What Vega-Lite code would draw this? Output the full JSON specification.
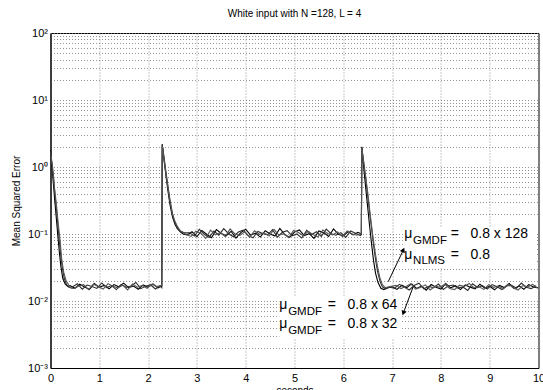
{
"$schema": "https://vega.github.io/schema/vega-lite/v6.json",
"width": 488, "height": 335,
"autosize": {"type": "none"},
"padding": {"left": 50.5, "top": 33, "right": 4.5, "bottom": 22},
"background": "white",
"title": {"text": "White input with N =128, L = 4", "fontSize": 10, "fontWeight": "normal", "font": "Liberation Sans", "color": "#000", "offset": 8, "frame": "group"},
"config": {"view": {"stroke": "#000", "strokeWidth": 1}, "font": "Liberation Sans"},
"datasets": {
"curves": [
{"s":"a","t":0,"v":1.8},{"s":"a","t":0.03,"v":1.0},{"s":"a","t":0.06,"v":0.55},{"s":"a","t":0.09,"v":0.3},{"s":"a","t":0.12,"v":0.17},{"s":"a","t":0.15,"v":0.095},{"s":"a","t":0.18,"v":0.055},{"s":"a","t":0.21,"v":0.034},{"s":"a","t":0.25,"v":0.022},{"s":"a","t":0.3,"v":0.018},{"s":"a","t":0.35,"v":0.0165},
{"s":"a","t":0.4,"v":0.0170},{"s":"a","t":0.5,"v":0.0155},{"s":"a","t":0.6,"v":0.0178},{"s":"a","t":0.7,"v":0.0162},{"s":"a","t":0.8,"v":0.0149},{"s":"a","t":0.9,"v":0.0183},{"s":"a","t":1.0,"v":0.0160},{"s":"a","t":1.1,"v":0.0171},{"s":"a","t":1.2,"v":0.0152},{"s":"a","t":1.3,"v":0.0176},{"s":"a","t":1.4,"v":0.0163},{"s":"a","t":1.5,"v":0.0185},{"s":"a","t":1.6,"v":0.0158},{"s":"a","t":1.7,"v":0.0167},{"s":"a","t":1.8,"v":0.0150},{"s":"a","t":1.9,"v":0.0174},{"s":"a","t":2.0,"v":0.0161},{"s":"a","t":2.1,"v":0.0180},{"s":"a","t":2.2,"v":0.0157},
{"s":"a","t":2.28,"v":0.0166},{"s":"a","t":2.29,"v":2.2},{"s":"a","t":2.33,"v":1.2},{"s":"a","t":2.37,"v":0.7},{"s":"a","t":2.41,"v":0.42},{"s":"a","t":2.45,"v":0.27},{"s":"a","t":2.5,"v":0.18},{"s":"a","t":2.55,"v":0.14},{"s":"a","t":2.6,"v":0.12},{"s":"a","t":2.66,"v":0.108},{"s":"a","t":2.72,"v":0.1},
{"s":"a","t":2.8,"v":0.097},{"s":"a","t":2.9,"v":0.108},{"s":"a","t":3.0,"v":0.091},{"s":"a","t":3.1,"v":0.113},{"s":"a","t":3.2,"v":0.099},{"s":"a","t":3.3,"v":0.088},{"s":"a","t":3.4,"v":0.116},{"s":"a","t":3.5,"v":0.102},{"s":"a","t":3.6,"v":0.094},{"s":"a","t":3.7,"v":0.110},{"s":"a","t":3.8,"v":0.087},{"s":"a","t":3.9,"v":0.105},{"s":"a","t":4.0,"v":0.118},{"s":"a","t":4.1,"v":0.096},{"s":"a","t":4.2,"v":0.103},{"s":"a","t":4.3,"v":0.090},{"s":"a","t":4.4,"v":0.112},{"s":"a","t":4.5,"v":0.100},{"s":"a","t":4.6,"v":0.093},{"s":"a","t":4.7,"v":0.121},{"s":"a","t":4.8,"v":0.098},{"s":"a","t":4.9,"v":0.089},{"s":"a","t":5.0,"v":0.107},{"s":"a","t":5.1,"v":0.115},{"s":"a","t":5.2,"v":0.095},{"s":"a","t":5.3,"v":0.101},{"s":"a","t":5.4,"v":0.086},{"s":"a","t":5.5,"v":0.111},{"s":"a","t":5.6,"v":0.104},{"s":"a","t":5.7,"v":0.092},{"s":"a","t":5.8,"v":0.119},{"s":"a","t":5.9,"v":0.099},{"s":"a","t":6.0,"v":0.094},{"s":"a","t":6.1,"v":0.109},{"s":"a","t":6.2,"v":0.097},{"s":"a","t":6.3,"v":0.106},
{"s":"a","t":6.37,"v":0.1},{"s":"a","t":6.38,"v":2.0},{"s":"a","t":6.42,"v":0.95},{"s":"a","t":6.46,"v":0.48},{"s":"a","t":6.5,"v":0.25},{"s":"a","t":6.54,"v":0.13},{"s":"a","t":6.58,"v":0.07},{"s":"a","t":6.62,"v":0.04},{"s":"a","t":6.66,"v":0.026},{"s":"a","t":6.71,"v":0.019},{"s":"a","t":6.77,"v":0.0155},{"s":"a","t":6.83,"v":0.0148},{"s":"a","t":6.9,"v":0.0158},
{"s":"a","t":7.0,"v":0.0163},{"s":"a","t":7.1,"v":0.0149},{"s":"a","t":7.2,"v":0.0172},{"s":"a","t":7.3,"v":0.0158},{"s":"a","t":7.4,"v":0.0180},{"s":"a","t":7.5,"v":0.0154},{"s":"a","t":7.6,"v":0.0167},{"s":"a","t":7.7,"v":0.0145},{"s":"a","t":7.8,"v":0.0176},{"s":"a","t":7.9,"v":0.0160},{"s":"a","t":8.0,"v":0.0151},{"s":"a","t":8.1,"v":0.0183},{"s":"a","t":8.2,"v":0.0157},{"s":"a","t":8.3,"v":0.0169},{"s":"a","t":8.4,"v":0.0148},{"s":"a","t":8.5,"v":0.0174},{"s":"a","t":8.6,"v":0.0161},{"s":"a","t":8.7,"v":0.0152},{"s":"a","t":8.8,"v":0.0178},{"s":"a","t":8.9,"v":0.0156},{"s":"a","t":9.0,"v":0.0166},{"s":"a","t":9.1,"v":0.0147},{"s":"a","t":9.2,"v":0.0171},{"s":"a","t":9.3,"v":0.0159},{"s":"a","t":9.4,"v":0.0182},{"s":"a","t":9.5,"v":0.0153},{"s":"a","t":9.6,"v":0.0168},{"s":"a","t":9.7,"v":0.0150},{"s":"a","t":9.8,"v":0.0175},{"s":"a","t":9.9,"v":0.0162},{"s":"a","t":10.0,"v":0.0157},
{"s":"b","t":0,"v":1.6},{"s":"b","t":0.03,"v":1.1},{"s":"b","t":0.06,"v":0.7},{"s":"b","t":0.09,"v":0.4},{"s":"b","t":0.12,"v":0.24},{"s":"b","t":0.15,"v":0.14},{"s":"b","t":0.18,"v":0.08},{"s":"b","t":0.21,"v":0.048},{"s":"b","t":0.24,"v":0.032},{"s":"b","t":0.28,"v":0.022},{"s":"b","t":0.33,"v":0.0175},{"s":"b","t":0.38,"v":0.016},
{"s":"b","t":0.45,"v":0.0162},{"s":"b","t":0.55,"v":0.0181},{"s":"b","t":0.65,"v":0.0150},{"s":"b","t":0.75,"v":0.0173},{"s":"b","t":0.85,"v":0.0165},{"s":"b","t":0.95,"v":0.0154},{"s":"b","t":1.05,"v":0.0186},{"s":"b","t":1.15,"v":0.0159},{"s":"b","t":1.25,"v":0.0170},{"s":"b","t":1.35,"v":0.0148},{"s":"b","t":1.45,"v":0.0177},{"s":"b","t":1.55,"v":0.0160},{"s":"b","t":1.65,"v":0.0168},{"s":"b","t":1.75,"v":0.0189},{"s":"b","t":1.85,"v":0.0153},{"s":"b","t":1.95,"v":0.0166},{"s":"b","t":2.05,"v":0.0175},{"s":"b","t":2.15,"v":0.0151},{"s":"b","t":2.25,"v":0.0169},
{"s":"b","t":2.28,"v":0.0158},{"s":"b","t":2.29,"v":2.15},{"s":"b","t":2.33,"v":1.35},{"s":"b","t":2.37,"v":0.8},{"s":"b","t":2.41,"v":0.5},{"s":"b","t":2.45,"v":0.32},{"s":"b","t":2.5,"v":0.2},{"s":"b","t":2.55,"v":0.15},{"s":"b","t":2.6,"v":0.125},{"s":"b","t":2.66,"v":0.11},{"s":"b","t":2.74,"v":0.104},
{"s":"b","t":2.85,"v":0.104},{"s":"b","t":2.95,"v":0.093},{"s":"b","t":3.05,"v":0.117},{"s":"b","t":3.15,"v":0.099},{"s":"b","t":3.25,"v":0.089},{"s":"b","t":3.35,"v":0.111},{"s":"b","t":3.45,"v":0.096},{"s":"b","t":3.55,"v":0.120},{"s":"b","t":3.65,"v":0.101},{"s":"b","t":3.75,"v":0.091},{"s":"b","t":3.85,"v":0.107},{"s":"b","t":3.95,"v":0.114},{"s":"b","t":4.05,"v":0.095},{"s":"b","t":4.15,"v":0.088},{"s":"b","t":4.25,"v":0.109},{"s":"b","t":4.35,"v":0.102},{"s":"b","t":4.45,"v":0.097},{"s":"b","t":4.55,"v":0.116},{"s":"b","t":4.65,"v":0.090},{"s":"b","t":4.75,"v":0.106},{"s":"b","t":4.85,"v":0.112},{"s":"b","t":4.95,"v":0.094},{"s":"b","t":5.05,"v":0.100},{"s":"b","t":5.15,"v":0.087},{"s":"b","t":5.25,"v":0.113},{"s":"b","t":5.35,"v":0.098},{"s":"b","t":5.45,"v":0.108},{"s":"b","t":5.55,"v":0.092},{"s":"b","t":5.65,"v":0.118},{"s":"b","t":5.75,"v":0.101},{"s":"b","t":5.85,"v":0.096},{"s":"b","t":5.95,"v":0.105},{"s":"b","t":6.05,"v":0.089},{"s":"b","t":6.15,"v":0.111},{"s":"b","t":6.25,"v":0.103},{"s":"b","t":6.35,"v":0.095},
{"s":"b","t":6.37,"v":0.098},{"s":"b","t":6.38,"v":1.95},{"s":"b","t":6.43,"v":1.0},{"s":"b","t":6.48,"v":0.5},{"s":"b","t":6.53,"v":0.24},{"s":"b","t":6.58,"v":0.12},{"s":"b","t":6.62,"v":0.068},{"s":"b","t":6.66,"v":0.042},{"s":"b","t":6.7,"v":0.028},{"s":"b","t":6.75,"v":0.02},{"s":"b","t":6.8,"v":0.0162},{"s":"b","t":6.87,"v":0.0152},{"s":"b","t":6.95,"v":0.016},
{"s":"b","t":7.05,"v":0.0155},{"s":"b","t":7.15,"v":0.0177},{"s":"b","t":7.25,"v":0.0161},{"s":"b","t":7.35,"v":0.0146},{"s":"b","t":7.45,"v":0.0170},{"s":"b","t":7.55,"v":0.0184},{"s":"b","t":7.65,"v":0.0152},{"s":"b","t":7.75,"v":0.0165},{"s":"b","t":7.85,"v":0.0158},{"s":"b","t":7.95,"v":0.0179},{"s":"b","t":8.05,"v":0.0149},{"s":"b","t":8.15,"v":0.0168},{"s":"b","t":8.25,"v":0.0173},{"s":"b","t":8.35,"v":0.0156},{"s":"b","t":8.45,"v":0.0162},{"s":"b","t":8.55,"v":0.0144},{"s":"b","t":8.65,"v":0.0181},{"s":"b","t":8.75,"v":0.0159},{"s":"b","t":8.85,"v":0.0170},{"s":"b","t":8.95,"v":0.0151},{"s":"b","t":9.05,"v":0.0176},{"s":"b","t":9.15,"v":0.0163},{"s":"b","t":9.25,"v":0.0148},{"s":"b","t":9.35,"v":0.0167},{"s":"b","t":9.45,"v":0.0172},{"s":"b","t":9.55,"v":0.0155},{"s":"b","t":9.65,"v":0.0185},{"s":"b","t":9.75,"v":0.0160},{"s":"b","t":9.85,"v":0.0153},{"s":"b","t":9.95,"v":0.0169},
{"s":"c","t":0,"v":1.7},{"s":"c","t":0.04,"v":1.05},{"s":"c","t":0.08,"v":0.5},{"s":"c","t":0.12,"v":0.28},{"s":"c","t":0.16,"v":0.14},{"s":"c","t":0.2,"v":0.075},{"s":"c","t":0.23,"v":0.042},{"s":"c","t":0.27,"v":0.027},{"s":"c","t":0.32,"v":0.02},{"s":"c","t":0.38,"v":0.017},{"s":"c","t":0.42,"v":0.0155},
{"s":"c","t":0.48,"v":0.0154},{"s":"c","t":0.58,"v":0.0168},{"s":"c","t":0.68,"v":0.0176},{"s":"c","t":0.78,"v":0.0147},{"s":"c","t":0.88,"v":0.0179},{"s":"c","t":0.98,"v":0.0163},{"s":"c","t":1.08,"v":0.0151},{"s":"c","t":1.18,"v":0.0182},{"s":"c","t":1.28,"v":0.0166},{"s":"c","t":1.38,"v":0.0157},{"s":"c","t":1.48,"v":0.0172},{"s":"c","t":1.58,"v":0.0146},{"s":"c","t":1.68,"v":0.0180},{"s":"c","t":1.78,"v":0.0161},{"s":"c","t":1.88,"v":0.0171},{"s":"c","t":1.98,"v":0.0155},{"s":"c","t":2.08,"v":0.0178},{"s":"c","t":2.18,"v":0.0164},
{"s":"c","t":2.28,"v":0.0172},{"s":"c","t":2.29,"v":2.1},{"s":"c","t":2.34,"v":1.1},{"s":"c","t":2.39,"v":0.6},{"s":"c","t":2.44,"v":0.33},{"s":"c","t":2.49,"v":0.21},{"s":"c","t":2.54,"v":0.16},{"s":"c","t":2.6,"v":0.13},{"s":"c","t":2.66,"v":0.112},{"s":"c","t":2.72,"v":0.105},{"s":"c","t":2.78,"v":0.098},
{"s":"c","t":2.88,"v":0.092},{"s":"c","t":2.98,"v":0.110},{"s":"c","t":3.08,"v":0.103},{"s":"c","t":3.18,"v":0.086},{"s":"c","t":3.28,"v":0.114},{"s":"c","t":3.38,"v":0.097},{"s":"c","t":3.48,"v":0.106},{"s":"c","t":3.58,"v":0.091},{"s":"c","t":3.68,"v":0.119},{"s":"c","t":3.78,"v":0.100},{"s":"c","t":3.88,"v":0.095},{"s":"c","t":3.98,"v":0.108},{"s":"c","t":4.08,"v":0.089},{"s":"c","t":4.18,"v":0.112},{"s":"c","t":4.28,"v":0.099},{"s":"c","t":4.38,"v":0.104},{"s":"c","t":4.48,"v":0.093},{"s":"c","t":4.58,"v":0.117},{"s":"c","t":4.68,"v":0.096},{"s":"c","t":4.78,"v":0.101},{"s":"c","t":4.88,"v":0.088},{"s":"c","t":4.98,"v":0.113},{"s":"c","t":5.08,"v":0.105},{"s":"c","t":5.18,"v":0.094},{"s":"c","t":5.28,"v":0.110},{"s":"c","t":5.38,"v":0.098},{"s":"c","t":5.48,"v":0.090},{"s":"c","t":5.58,"v":0.115},{"s":"c","t":5.68,"v":0.102},{"s":"c","t":5.78,"v":0.097},{"s":"c","t":5.88,"v":0.107},{"s":"c","t":5.98,"v":0.092},{"s":"c","t":6.08,"v":0.111},{"s":"c","t":6.18,"v":0.100},{"s":"c","t":6.28,"v":0.096},
{"s":"c","t":6.37,"v":0.103},{"s":"c","t":6.38,"v":1.9},{"s":"c","t":6.44,"v":0.9},{"s":"c","t":6.5,"v":0.42},{"s":"c","t":6.55,"v":0.2},{"s":"c","t":6.6,"v":0.1},{"s":"c","t":6.65,"v":0.055},{"s":"c","t":6.7,"v":0.033},{"s":"c","t":6.75,"v":0.022},{"s":"c","t":6.8,"v":0.0175},{"s":"c","t":6.86,"v":0.0158},{"s":"c","t":6.93,"v":0.0163},
{"s":"c","t":7.08,"v":0.0171},{"s":"c","t":7.18,"v":0.0153},{"s":"c","t":7.28,"v":0.0164},{"s":"c","t":7.38,"v":0.0181},{"s":"c","t":7.48,"v":0.0150},{"s":"c","t":7.58,"v":0.0159},{"s":"c","t":7.68,"v":0.0174},{"s":"c","t":7.78,"v":0.0146},{"s":"c","t":7.88,"v":0.0166},{"s":"c","t":7.98,"v":0.0161},{"s":"c","t":8.08,"v":0.0178},{"s":"c","t":8.18,"v":0.0154},{"s":"c","t":8.28,"v":0.0148},{"s":"c","t":8.38,"v":0.0172},{"s":"c","t":8.48,"v":0.0165},{"s":"c","t":8.58,"v":0.0183},{"s":"c","t":8.68,"v":0.0157},{"s":"c","t":8.78,"v":0.0163},{"s":"c","t":8.88,"v":0.0149},{"s":"c","t":8.98,"v":0.0175},{"s":"c","t":9.08,"v":0.0160},{"s":"c","t":9.18,"v":0.0168},{"s":"c","t":9.28,"v":0.0152},{"s":"c","t":9.38,"v":0.0180},{"s":"c","t":9.48,"v":0.0158},{"s":"c","t":9.58,"v":0.0145},{"s":"c","t":9.68,"v":0.0170},{"s":"c","t":9.78,"v":0.0162},{"s":"c","t":9.88,"v":0.0177},{"s":"c","t":9.98,"v":0.0156}
],
"boxes": [
{"t":7.22,"t2":9.95,"v":0.127,"v2":0.031},
{"t":4.69,"t2":7.18,"v":0.0119,"v2":0.0028}
],
"big": [
{"t":7.25,"v":0.1,"txt":"μ"},{"t":8.2,"v":0.1,"txt":"=\u00a0\u00a0\u00a00.8 x\u00a0128"},
{"t":7.25,"v":0.0494,"txt":"μ"},{"t":8.2,"v":0.0494,"txt":"=\u00a0\u00a0\u00a00.8"},
{"t":4.69,"v":0.00863,"txt":"μ"},{"t":5.68,"v":0.00863,"txt":"=\u00a0\u00a0\u00a00.8 x 64"},
{"t":4.69,"v":0.00457,"txt":"μ"},{"t":5.68,"v":0.00457,"txt":"=\u00a0\u00a0\u00a00.8 x 32"}
],
"sub": [
{"t":7.43,"v":0.0792,"txt":"GMDF"},
{"t":7.43,"v":0.0391,"txt":"NLMS"},
{"t":4.87,"v":0.00678,"txt":"GMDF"},
{"t":4.87,"v":0.00359,"txt":"GMDF"}
],
"arrows": [
{"a":1,"p":"tail","t":6.92,"v":0.0194},{"a":1,"p":"head","t":7.23,"v":0.0577},
{"a":2,"p":"tail","t":7.43,"v":0.0162},{"a":2,"p":"head","t":7.23,"v":0.0066}
]
},
"layer": [
{
"data": {"name": "curves"},
"mark": {"type": "line", "strokeWidth": 1.1, "clip": true},
"encoding": {
"x": {"field": "t", "type": "quantitative", "scale": {"domain": [0, 10], "nice": false},
"axis": {"title": "seconds", "values": [0,1,2,3,4,5,6,7,8,9,10], "grid": true, "gridDash": [1,2], "gridColor": "#777", "gridWidth": 0.8, "ticks": false, "labelFontSize": 11, "labelColor": "#000", "labelFlush": false, "labelPadding": 4, "titleFontSize": 10, "titleFontWeight": "normal", "titleColor": "#000", "titlePadding": 2, "domainColor": "#000"}},
"y": {"field": "v", "type": "quantitative", "scale": {"type": "log", "domain": [0.001, 100], "nice": false},
"axis": {"title": "Mean Squared Error", "values": [0.001,0.002,0.003,0.004,0.005,0.006,0.007,0.008,0.009,0.01,0.02,0.03,0.04,0.05,0.06,0.07,0.08,0.09,0.1,0.2,0.3,0.4,0.5,0.6,0.7,0.8,0.9,1,2,3,4,5,6,7,8,9,10,20,30,40,50,60,70,80,90,100],
"labelExpr": "datum.value == 100 ? '10²' : datum.value == 10 ? '10¹' : datum.value == 1 ? '10⁰' : datum.value == 0.1 ? '10⁻¹' : datum.value == 0.01 ? '10⁻²' : datum.value == 0.001 ? '10⁻³' : ''",
"labelOverlap": false, "grid": true, "gridDash": [1,2], "gridColor": "#777", "gridWidth": 0.8, "ticks": false, "labelFontSize": 11, "labelColor": "#000", "labelPadding": 3, "titleFontSize": 10, "titleFontWeight": "normal", "titleColor": "#000", "titlePadding": 6, "domainColor": "#000"}},
"color": {"field": "s", "type": "nominal", "scale": {"domain": ["a","b","c"], "range": ["#000000","#2e2e2e","#555555"]}, "legend": null}
}
},
{
"data": {"name": "boxes"},
"mark": {"type": "rect", "fill": "white"},
"encoding": {
"x": {"field": "t", "type": "quantitative"},
"x2": {"field": "t2"},
"y": {"field": "v", "type": "quantitative"},
"y2": {"field": "v2"}
}
},
{
"data": {"name": "arrows"},
"mark": {"type": "line", "color": "#000", "strokeWidth": 1},
"encoding": {
"x": {"field": "t", "type": "quantitative"},
"y": {"field": "v", "type": "quantitative"},
"detail": {"field": "a"}
}
},
{
"data": {"name": "arrows"},
"transform": [{"filter": "datum.a == 1 && datum.p == 'head'"}],
"mark": {"type": "point", "shape": "triangle-up", "filled": true, "color": "#000", "size": 30, "angle": 25, "opacity": 1},
"encoding": {
"x": {"field": "t", "type": "quantitative"},
"y": {"field": "v", "type": "quantitative"}
}
},
{
"data": {"name": "arrows"},
"transform": [{"filter": "datum.a == 2 && datum.p == 'head'"}],
"mark": {"type": "point", "shape": "triangle-up", "filled": true, "color": "#000", "size": 30, "angle": 200, "opacity": 1},
"encoding": {
"x": {"field": "t", "type": "quantitative"},
"y": {"field": "v", "type": "quantitative"}
}
},
{
"data": {"name": "big"},
"mark": {"type": "text", "align": "left", "baseline": "middle", "fontSize": 14, "font": "Liberation Sans", "color": "#000"},
"encoding": {
"x": {"field": "t", "type": "quantitative"},
"y": {"field": "v", "type": "quantitative"},
"text": {"field": "txt"}
}
},
{
"data": {"name": "sub"},
"mark": {"type": "text", "align": "left", "baseline": "middle", "fontSize": 11.5, "font": "Liberation Sans", "color": "#000"},
"encoding": {
"x": {"field": "t", "type": "quantitative"},
"y": {"field": "v", "type": "quantitative"},
"text": {"field": "txt"}
}
}
]
}
